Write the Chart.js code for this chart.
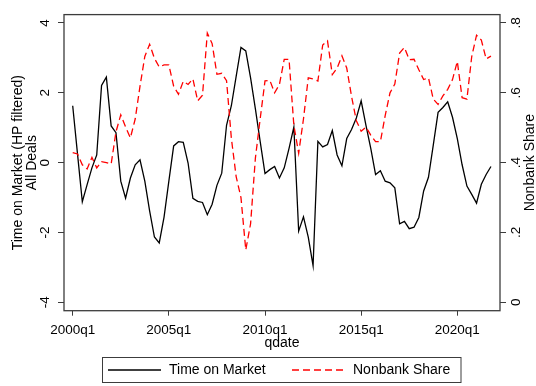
<!DOCTYPE html>
<html>
<head>
<meta charset="utf-8">
<script src="https://cdn.jsdelivr.net/npm/chart.js@4"></script>
<style>
  html, body { margin: 0; padding: 0; background: #ffffff; }
  #wrap { width: 536px; height: 386px; }
</style>
</head>
<body>
<div id="wrap"><canvas id="c" width="536" height="386"></canvas></div>
<script>
// Quarterly series, 2000q1 .. 2021q4 (88 quarters)
const firstYear = 2000;
const tickQuarters = [0, 20, 40, 60, 80];
const tickLabels = ['2000q1', '2005q1', '2010q1', '2015q1', '2020q1'];
const leftTicks = [-4, -2, 0, 2, 4];
const rightTicks = [0, 0.2, 0.4, 0.6, 0.8];
const rightTickLabels = ['0', '.2', '.4', '.6', '.8'];

// Time on market, HP-filtered cycle (all deals)
const timeOnMarket = [
  1.63, 0.25, -1.12, -0.63, -0.15, 0.22, 2.21, 2.45, 1.05, 0.86,
  -0.53, -1.02, -0.44, -0.06, 0.08, -0.53, -1.38, -2.13, -2.30, -1.56,
  -0.53, 0.48, 0.60, 0.58, -0.01, -1.02, -1.11, -1.14, -1.49, -1.19,
  -0.65, -0.30, 1.07, 1.63, 2.47, 3.30, 3.20, 2.43, 1.54, 0.60,
  -0.31, -0.20, -0.11, -0.44, -0.15, 0.41, 1.02, -1.96, -1.55, -2.13,
  -2.95, 0.61, 0.45, 0.52, 0.92, 0.22, -0.09, 0.69, 0.95, 1.28,
  1.77, 1.07, 0.41, -0.34, -0.23, -0.53, -0.58, -0.72, -1.75, -1.68,
  -1.89, -1.85, -1.57, -0.81, -0.42, 0.50, 1.44, 1.58, 1.74, 1.30,
  0.69, -0.06, -0.67, -0.91, -1.16, -0.62, -0.34, -0.11
];

// Nonbank lender share of deals
const nonbankShare = [
  0.429, 0.425, 0.394, 0.382, 0.415, 0.385, 0.403, 0.400, 0.396, 0.488,
  0.537, 0.502, 0.471, 0.525, 0.619, 0.704, 0.739, 0.699, 0.674, 0.680,
  0.680, 0.619, 0.596, 0.633, 0.624, 0.640, 0.577, 0.593, 0.771, 0.741,
  0.653, 0.656, 0.635, 0.470, 0.360, 0.300, 0.150, 0.225, 0.413, 0.526,
  0.634, 0.636, 0.600, 0.624, 0.696, 0.696, 0.507, 0.427, 0.525, 0.643,
  0.640, 0.634, 0.737, 0.749, 0.652, 0.671, 0.706, 0.671, 0.590, 0.520,
  0.490, 0.502, 0.479, 0.460, 0.460, 0.535, 0.600, 0.625, 0.714, 0.730,
  0.695, 0.696, 0.666, 0.638, 0.643, 0.582, 0.567, 0.591, 0.610, 0.638,
  0.690, 0.586, 0.582, 0.704, 0.765, 0.751, 0.697, 0.705
];

const qdate = timeOnMarket.map((_, i) => (firstYear + Math.floor(i / 4)) + 'q' + (i % 4 + 1));

const FONT = "'Liberation Sans', Arial, Helvetica, sans-serif";
const INK = '#000000';
const FRAME = '#3c3c3c';

Chart.defaults.font.family = FONT;
Chart.defaults.color = INK;

const seriesNames = ['Time on Market', 'Nonbank Share'];

// Plot frame, axis titles and boxed legend
const decor = {
  id: 'decor',
  afterDraw(chart) {
    const { ctx, chartArea: a } = chart;
    ctx.save();
    ctx.strokeStyle = FRAME;
    ctx.lineWidth = 1.3;
    ctx.strokeRect(a.left, a.top, a.right - a.left, a.bottom - a.top);

    ctx.fillStyle = INK;
    ctx.font = '14px ' + FONT;
    ctx.textAlign = 'center';
    ctx.textBaseline = 'middle';
    const midY = (a.top + a.bottom) / 2;
    const midX = (a.left + a.right) / 2;

    // left title (two lines, reading upward)
    ctx.save();
    ctx.translate(18.5, midY);
    ctx.rotate(-Math.PI / 2);
    ctx.fillText('Time on Market (HP filtered)', 0, 0);
    ctx.restore();
    ctx.save();
    ctx.translate(32.5, midY);
    ctx.rotate(-Math.PI / 2);
    ctx.fillText('All Deals', 0, 0);
    ctx.restore();

    // right title
    ctx.save();
    ctx.translate(530, midY);
    ctx.rotate(-Math.PI / 2);
    ctx.fillText('Nonbank Share', 0, 0);
    ctx.restore();

    // x title
    ctx.fillText('qdate', midX, 343.5);

    // legend
    const bx = 102.5, by = 357.5, bw = 358.5, bh = 25;
    ctx.strokeStyle = FRAME;
    ctx.lineWidth = 1;
    ctx.strokeRect(bx, by, bw, bh);
    const ly = by + bh / 2;
    const items = [
      { x0: 108, x1: 161, tx: 169 },
      { x0: 292, x1: 345, tx: 353 }
    ];
    items.forEach((it, k) => {
      const ds = chart.data.datasets[k];
      ctx.strokeStyle = ds.borderColor;
      ctx.lineWidth = ds.borderWidth;
      ctx.setLineDash(ds.borderDash || []);
      ctx.beginPath();
      ctx.moveTo(it.x0, ly);
      ctx.lineTo(it.x1, ly);
      ctx.stroke();
      ctx.setLineDash([]);
      ctx.fillStyle = INK;
      ctx.textAlign = 'left';
      ctx.fillText(seriesNames[k], it.tx, ly + 0.5);
    });
    ctx.restore();
  }
};

new Chart(document.getElementById('c'), {
  type: 'line',
  data: {
    labels: qdate,
    datasets: [
      {
        label: seriesNames[0],
        data: timeOnMarket.map((v, i) => ({ x: i, y: v })),
        borderColor: '#000000',
        borderWidth: 1.3,
        pointRadius: 0,
        tension: 0,
        yAxisID: 'y',
        order: 1
      },
      {
        label: seriesNames[1],
        data: nonbankShare.map((v, i) => ({ x: i, y: v })),
        borderColor: '#ff0000',
        borderWidth: 1.3,
        borderDash: [7, 4],
        pointRadius: 0,
        tension: 0,
        yAxisID: 'y2',
        order: 0
      }
    ]
  },
  options: {
    responsive: false,
    devicePixelRatio: 1,
    animation: false,
    events: [],
    layout: { padding: { top: 9, left: 0, right: 0, bottom: 0 } },
    plugins: { legend: { display: false }, tooltip: { enabled: false } },
    scales: {
      x: {
        type: 'linear',
        min: -1.81,
        max: 88.88,
        afterBuildTicks(s) { s.ticks = tickQuarters.map(v => ({ value: v })); },
        afterFit(s) { s.height = 75.3; },
        grid: { drawOnChartArea: false, drawTicks: true, tickLength: 5, color: FRAME, lineWidth: 1 },
        border: { display: false },
        ticks: {
          autoSkip: false, maxRotation: 0, minRotation: 0, padding: 6,
          font: { size: 13.5 }, color: INK,
          callback(v) { const k = tickQuarters.indexOf(v); return k < 0 ? '' : tickLabels[k]; }
        }
      },
      y: {
        type: 'linear',
        position: 'left',
        min: -4.24,
        max: 4.24,
        afterBuildTicks(s) { s.ticks = leftTicks.map(v => ({ value: v })); },
        afterFit(s) { s.width = 64; },
        grid: { drawOnChartArea: false, drawTicks: true, tickLength: 6, color: FRAME, lineWidth: 1 },
        border: { display: false },
        ticks: {
          minRotation: 90, maxRotation: 90, crossAlign: 'center', padding: 6.5,
          font: { size: 13.5 }, color: INK,
          callback(v) { return String(v); }
        }
      },
      y2: {
        type: 'linear',
        position: 'right',
        min: -0.024,
        max: 0.824,
        afterBuildTicks(s) { s.ticks = rightTicks.map(v => ({ value: v })); },
        afterFit(s) { s.width = 36; },
        grid: { drawOnChartArea: false, drawTicks: true, tickLength: 6, color: FRAME, lineWidth: 1 },
        border: { display: false },
        ticks: {
          minRotation: 90, maxRotation: 90, crossAlign: 'center', padding: 5,
          font: { size: 13.5 }, color: INK,
          callback(v) {
            const k = rightTicks.findIndex(t => Math.abs(t - v) < 1e-9);
            return k < 0 ? '' : rightTickLabels[k];
          }
        }
      }
    }
  },
  plugins: [decor]
});
</script>
</body>
</html>
